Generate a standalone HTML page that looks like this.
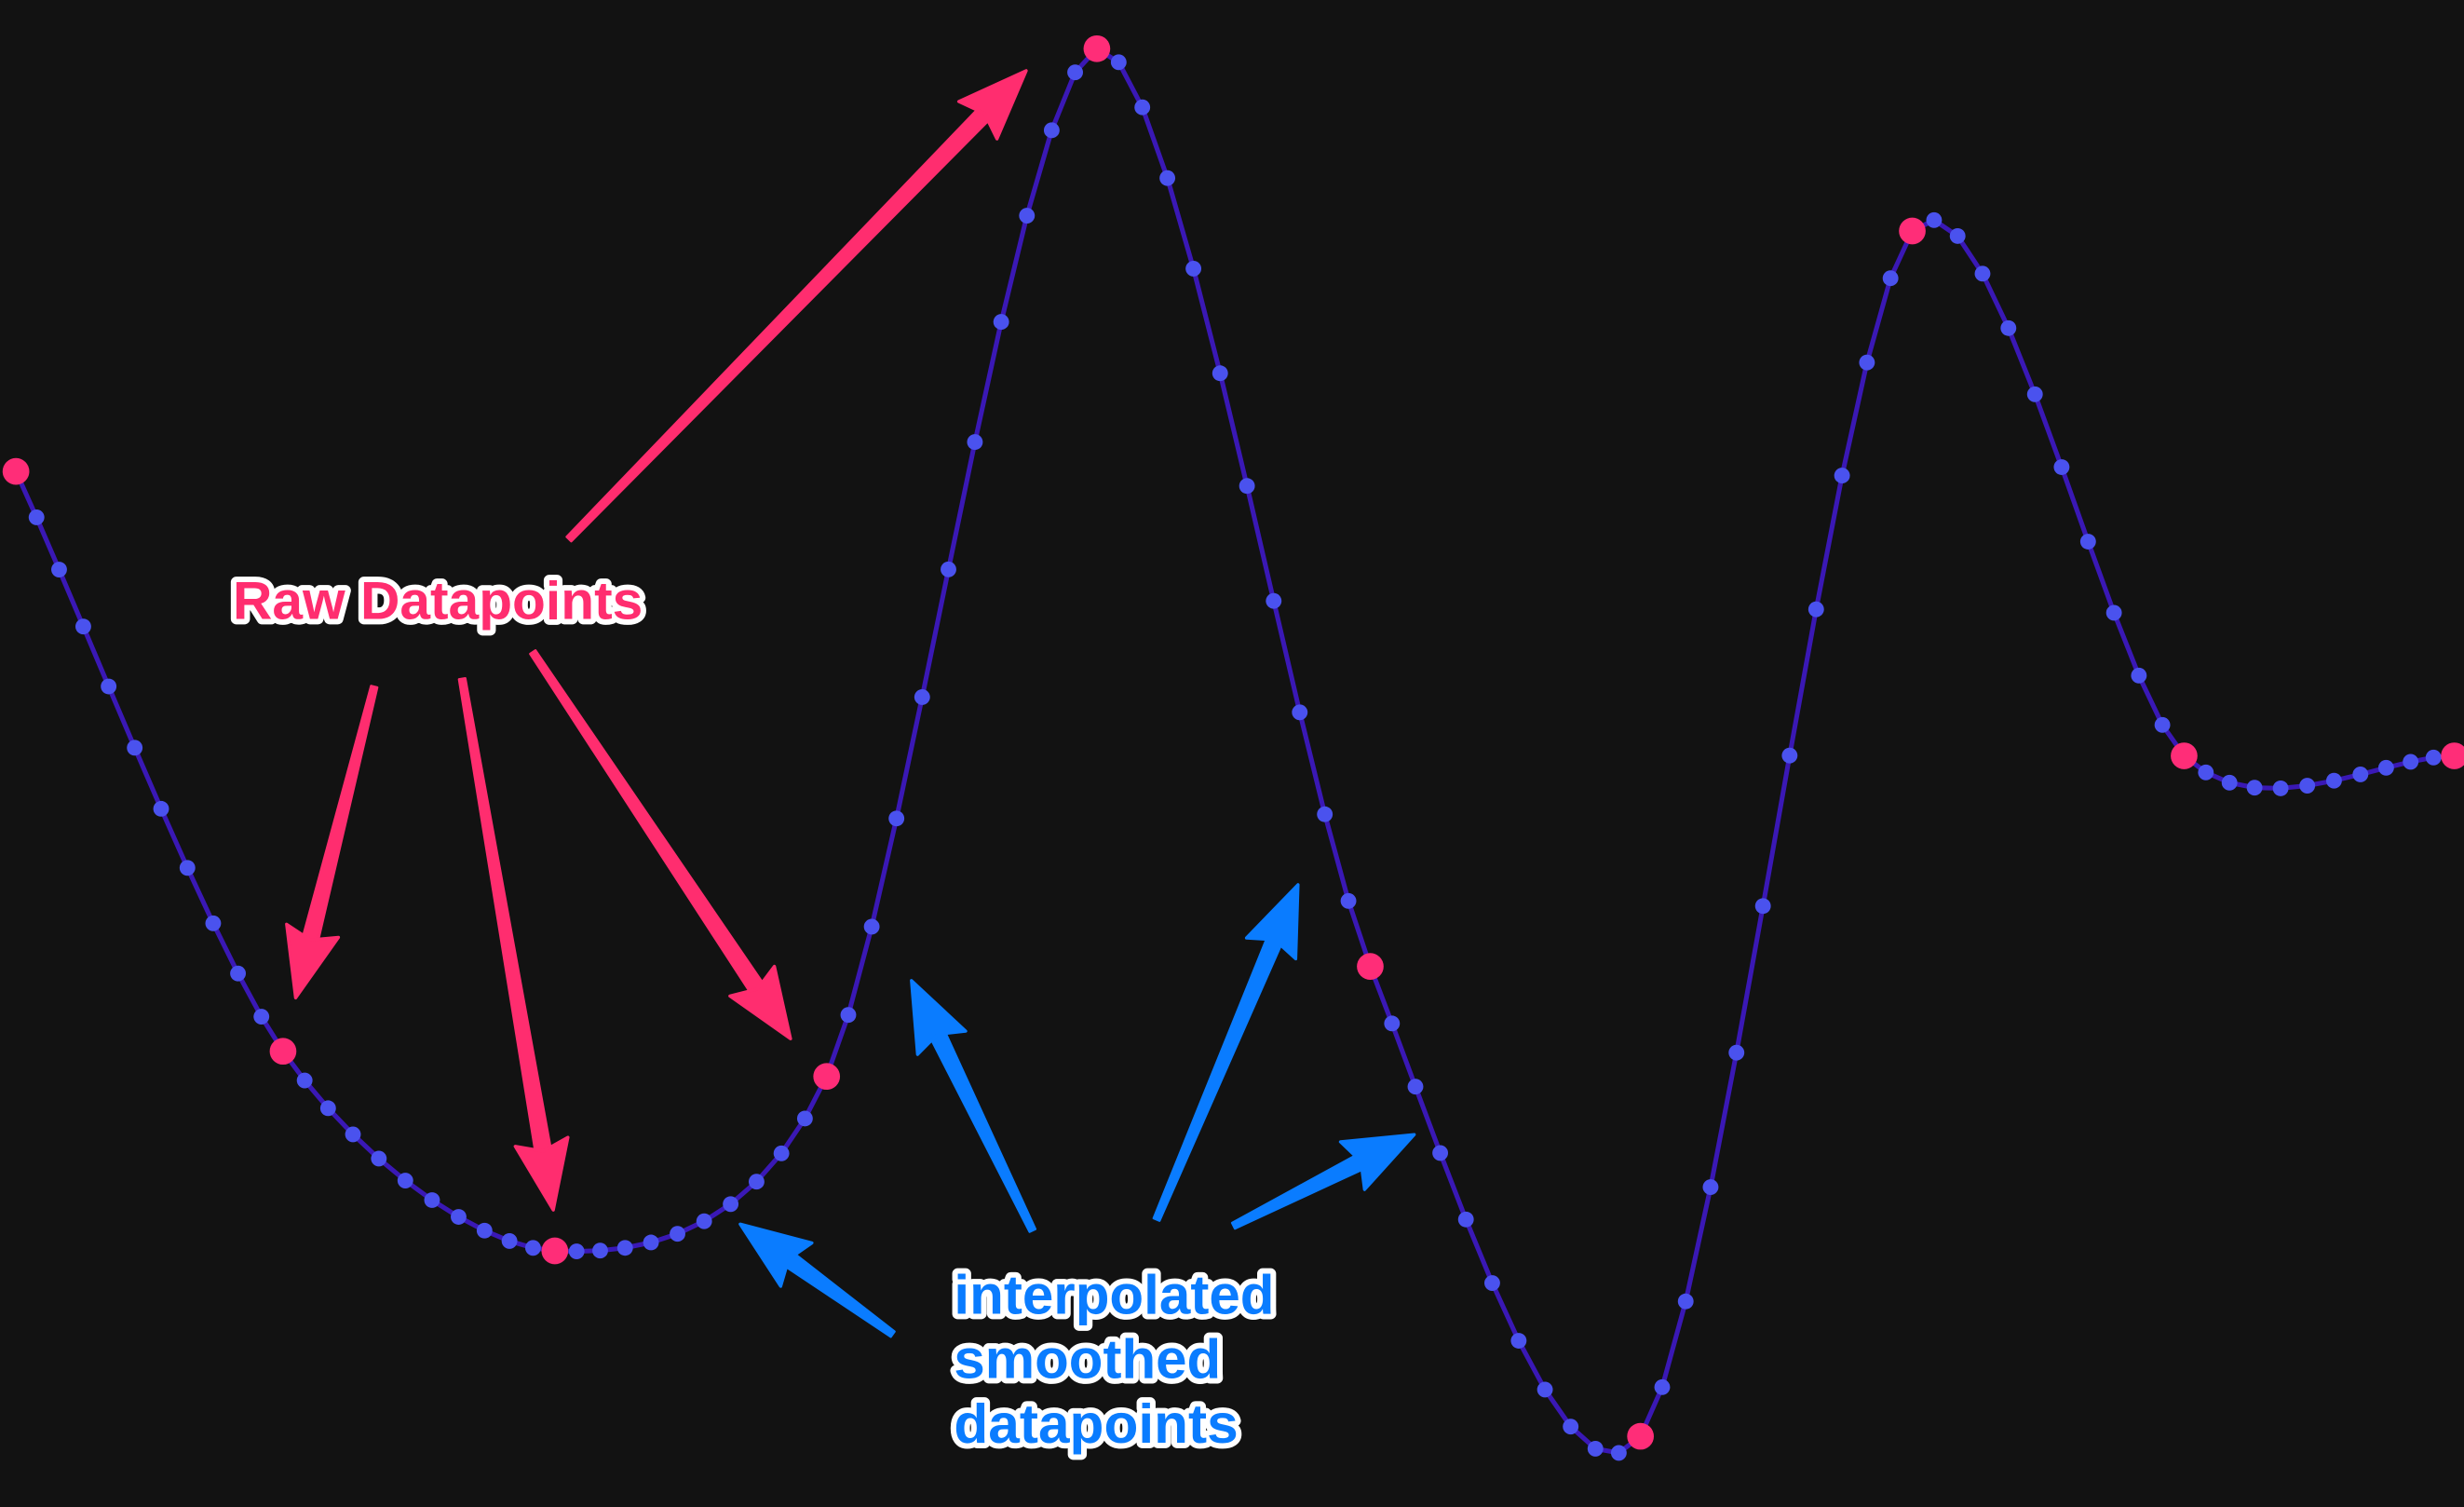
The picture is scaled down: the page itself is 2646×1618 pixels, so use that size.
<!DOCTYPE html>
<html><head><meta charset="utf-8"><style>
html,body{margin:0;padding:0;background:#121212;}
svg{display:block}
text{font-family:"Liberation Sans",sans-serif;font-weight:bold;paint-order:stroke;stroke:#fff;stroke-linejoin:round;}
</style></head><body>
<svg id="s" width="2646" height="1618" viewBox="0 0 1568 959" xmlns="http://www.w3.org/2000/svg">
<rect width="1568" height="959" fill="#121212"/>
<g id="curve"></g>
<g id="arrows"></g>
<text x="148" y="394" font-size="34" fill="#ff2d6f" stroke-width="7" textLength="261" lengthAdjust="spacingAndGlyphs">Raw Datapoints</text>
<text x="607" y="836" font-size="35" fill="#0a7cff" stroke-width="7" textLength="204" lengthAdjust="spacingAndGlyphs">interpolated</text>
<text x="607" y="877" font-size="35" fill="#0a7cff" stroke-width="7" textLength="170" lengthAdjust="spacingAndGlyphs">smoothed</text>
<text x="607" y="918" font-size="35" fill="#0a7cff" stroke-width="7" textLength="181" lengthAdjust="spacingAndGlyphs">datapoints</text>
</svg>
<script>
var NS="http://www.w3.org/2000/svg";
function el(t,a,p){var e=document.createElementNS(NS,t);for(var k in a)e.setAttribute(k,a[k]);p.appendChild(e);return e;}
var P=[[10,300],[180,669],[353,796],[526,685],[698,31],[872,615],[1044,914],[1217,147],[1390,481],[1562,481]];
var n=P.length,T=[],S=0.42;
for(var i=0;i<n;i++){
 var a=P[Math.max(i-1,0)],b=P[Math.min(i+1,n-1)];
 var sc=(i==0||i==n-1)?0.8:S;
 T.push([(b[0]-a[0])*sc,(b[1]-a[1])*sc]);
}
var g=document.getElementById("curve");
var pts=[],N=11;
for(var i=0;i<n-1;i++){
 var p1=P[i],p2=P[i+1],m1=T[i],m2=T[i+1];
 for(var j=0;j<N;j++){
  var t=j/N,t2=t*t,t3=t2*t;
  var h00=2*t3-3*t2+1,h10=t3-2*t2+t,h01=-2*t3+3*t2,h11=t3-t2;
  pts.push([h00*p1[0]+h10*m1[0]+h01*p2[0]+h11*m2[0],h00*p1[1]+h10*m1[1]+h01*p2[1]+h11*m2[1],j==0]);
 }
}
pts.push([P[n-1][0],P[n-1][1],true]);
el("polyline",{points:pts.map(function(p){return p[0]+","+p[1]}).join(" "),fill:"none",stroke:"#3a18b5","stroke-width":3},g);
pts.forEach(function(p){if(!p[2])el("circle",{cx:p[0],cy:p[1],r:5,fill:"#4a52ee"},g);});
pts.forEach(function(p){if(p[2])el("circle",{cx:p[0],cy:p[1],r:8.5,fill:"#ff2d78"},g);});
var A=[[362,343,653,45,"#ff2d6f"],[238,437,188,635,"#ff2d6f"],[294,432,352,770,"#ff2d6f"],[339,415,503,661,"#ff2d6f"],
[568,849,471,779,"#0a7cff"],[657,783,580,624,"#0a7cff"],[736,776,826,563,"#0a7cff"],[785,780,900,722,"#0a7cff"]];
var ag=document.getElementById("arrows");
A.forEach(function(a){
 var dx=a[2]-a[0],dy=a[3]-a[1],L=Math.sqrt(dx*dx+dy*dy),ux=dx/L,uy=dy/L,nx=-uy,ny=ux,h=44,w=17;
 var bx=a[2]-ux*h,by=a[3]-uy*h,w0=2,w1=5;
 var ex=bx+ux*6,ey=by+uy*6;
 el("polygon",{points:(a[0]+nx*w0)+","+(a[1]+ny*w0)+" "+(ex+nx*w1)+","+(ey+ny*w1)+" "+(ex-nx*w1)+","+(ey-ny*w1)+" "+(a[0]-nx*w0)+","+(a[1]-ny*w0),fill:a[4],stroke:a[4],"stroke-width":1.5,"stroke-linejoin":"round"},ag);
 el("polygon",{points:a[2]+","+a[3]+" "+(bx+nx*w)+","+(by+ny*w)+" "+(bx+ux*6)+","+(by+uy*6)+" "+(bx-nx*w)+","+(by-ny*w),fill:a[4],stroke:a[4],"stroke-width":2,"stroke-linejoin":"round"},ag);
});
</script>
</body></html>
